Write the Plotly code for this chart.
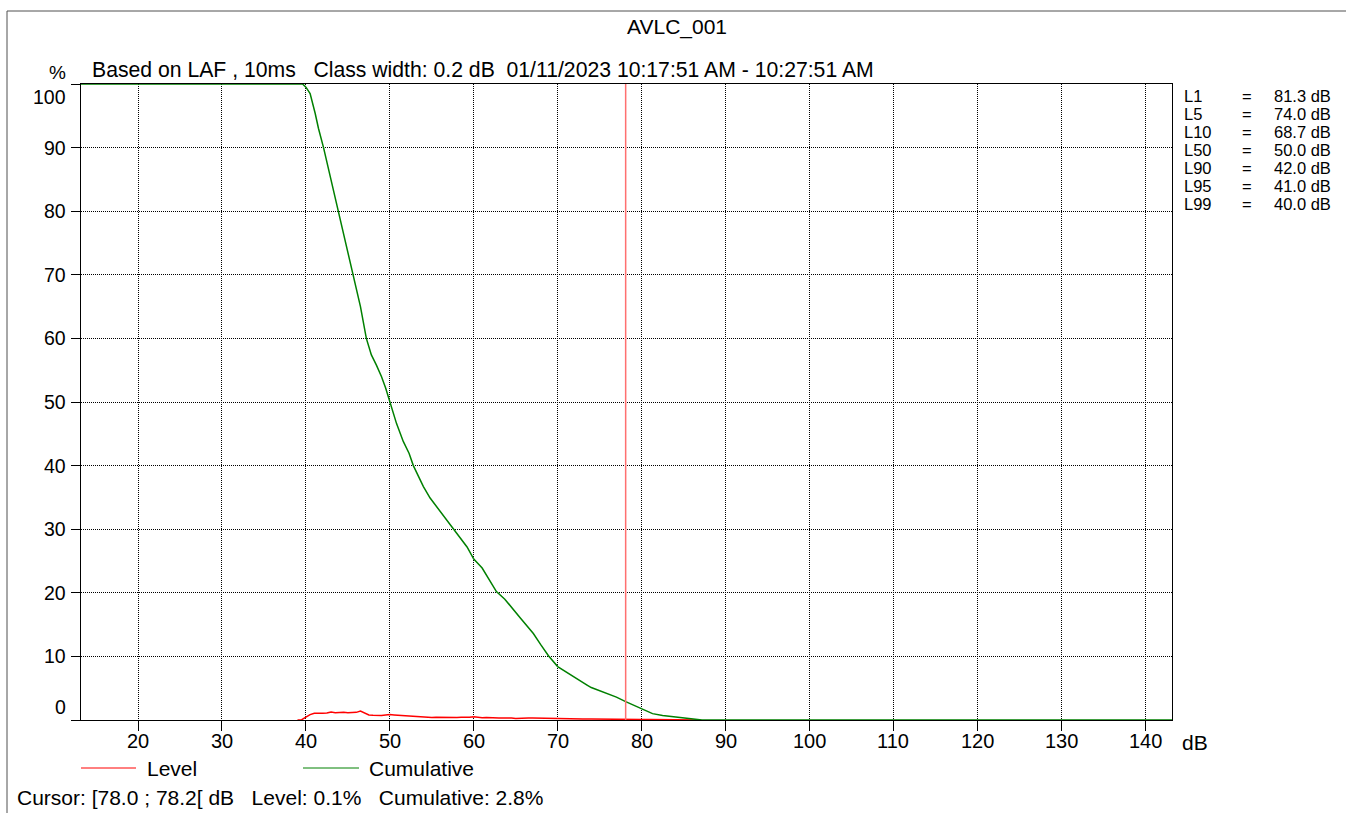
import plotly.graph_objects as go

# ---- data -------------------------------------------------------------
# Cumulative distribution (percent of time the level was exceeded)
cum_db = [13.2, 39.6, 40.0, 40.5, 41.1, 41.5, 42.1, 43.0, 43.9, 44.7, 45.6,
          46.5, 47.2, 47.8, 48.4, 49.0, 49.5, 50.0, 50.8, 51.6, 52.3, 52.8,
          54.0, 54.8, 56.0, 57.6, 59.2, 60.0, 61.0, 62.7, 63.7, 65.5, 66.7,
          67.1, 68.0, 68.9, 70.0, 71.5, 73.5, 74.0, 75.9, 77.0, 78.1, 80.0,
          81.3, 82.5, 83.8, 85.0, 86.2, 87.2, 143.2]
cum_pct = [100.0, 100.0, 99.5, 98.5, 95.4, 93.0, 90.0, 84.9, 80.0, 75.0, 70.0,
           65.0, 60.0, 57.4, 55.8, 54.0, 52.2, 50.0, 46.6, 43.8, 41.9, 40.0,
           36.7, 34.9, 32.8, 30.0, 27.2, 25.3, 23.9, 20.2, 19.0, 16.1, 14.3,
           13.6, 11.8, 10.1, 8.4, 7.1, 5.5, 5.1, 4.2, 3.6, 2.9, 1.7,
           1.0, 0.7, 0.5, 0.3, 0.15, 0.0, 0.0]

# Level distribution (percent per 0.2 dB class)
lvl_db = [39.0, 39.5, 40.0, 40.5, 41.0, 41.5, 42.0, 42.5, 43.0, 43.5, 44.0,
          44.5, 45.0, 45.5, 46.0, 46.5, 47.0, 47.5, 48.0, 48.5, 49.0, 49.5,
          50.0, 50.5, 51.0, 51.5, 52.0, 52.5, 53.0, 53.5, 54.0, 54.5, 55.0,
          55.5, 56.0, 56.5, 57.0, 57.5, 58.0, 58.5, 59.0, 59.5, 60.0, 60.5,
          61.0, 61.5, 62.0, 62.5, 63.0, 63.5, 64.0, 64.5, 65.0, 65.5, 66.0,
          66.5, 67.0, 67.5, 68.0, 68.5, 69.0, 69.5, 70.0, 71.0, 72.0, 73.0,
          74.0, 75.0, 76.0, 77.0, 78.0, 79.0, 80.0, 81.0, 82.0, 83.0, 84.0,
          85.0, 86.0, 87.0]
lvl_pct = [0.0, 0.05, 0.45, 0.85, 1.05, 1.0, 1.05, 1.1, 1.25, 1.15, 1.2,
           1.2, 1.15, 1.2, 1.2, 1.4, 1.05, 0.8, 0.75, 0.7, 0.72, 0.78,
           0.85, 0.8, 0.75, 0.7, 0.72, 0.6, 0.62, 0.5, 0.5, 0.45, 0.4,
           0.45, 0.42, 0.4, 0.42, 0.38, 0.4, 0.42, 0.4, 0.45, 0.5, 0.4,
           0.35, 0.38, 0.33, 0.35, 0.3, 0.32, 0.35, 0.3, 0.25, 0.3, 0.35,
           0.3, 0.32, 0.3, 0.28, 0.25, 0.25, 0.22, 0.2, 0.18, 0.2, 0.15,
           0.15, 0.12, 0.12, 0.1, 0.1, 0.08, 0.08, 0.06, 0.05, 0.05, 0.04,
           0.03, 0.02, 0.0]

cursor_db = 78.1
x_ticks = [20, 30, 40, 50, 60, 70, 80, 90, 100, 110, 120, 130, 140]
y_ticks = [0, 10, 20, 30, 40, 50, 60, 70, 80, 90, 100]
stat_names = ["L1", "L5", "L10", "L50", "L90", "L95", "L99"]
stat_values = [81.3, 74.0, 68.7, 50.0, 42.0, 41.0, 40.0]

# ---- geometry (pixels) -------------------------------------------------
W, H = 1346, 813
L, R, T, B = 81, 1172, 84, 720
PW, PH = R - L, B - T
FONT = "Liberation Sans, Arial, sans-serif"
NB = "&nbsp;"


def px(x):
    return (x - L) / PW


def py(y):
    return (B - y) / PH


fig = go.Figure()
fig.add_trace(go.Scatter(x=lvl_db, y=lvl_pct, mode="lines", name="Level",
                         line=dict(color="#ff0000", width=1.5),
                         showlegend=False, hoverinfo="skip"))
fig.add_trace(go.Scatter(x=cum_db, y=cum_pct, mode="lines", name="Cumulative",
                         line=dict(color="#008000", width=1.5),
                         showlegend=False, hoverinfo="skip"))

shapes = []
# cursor
shapes.append(dict(type="line", xref="x", yref="paper", x0=cursor_db,
                   x1=cursor_db, y0=0, y1=1,
                   line=dict(color="#ff7070", width=1.5), layer="above"))
# outer frame (top + left)
shapes.append(dict(type="line", xref="paper", yref="paper",
                   x0=px(7), x1=px(W), y0=py(11), y1=py(11),
                   line=dict(color="#505050", width=1)))
shapes.append(dict(type="line", xref="paper", yref="paper",
                   x0=px(7), x1=px(7), y0=py(11), y1=py(H + 2),
                   line=dict(color="#505050", width=1)))
# legend samples
shapes.append(dict(type="line", xref="paper", yref="paper",
                   x0=px(81), x1=px(136), y0=py(768), y1=py(768),
                   line=dict(color="#ff0000", width=1)))
shapes.append(dict(type="line", xref="paper", yref="paper",
                   x0=px(303), x1=px(359), y0=py(768), y1=py(768),
                   line=dict(color="#008000", width=1)))

ann = []


def text(x, y, s, anchor="left", size=21):
    ann.append(dict(xref="paper", yref="paper", x=px(x), y=py(y), text=s,
                    showarrow=False, xanchor=anchor, yanchor="middle",
                    font=dict(family=FONT, size=size, color="#000")))


text(677, 27, "AVLC_001", "center", 21)
text(57, 72, "%", "center", 19)
text(90, 70, "Based on LAF , 10ms" + NB * 3 + "Class width: 0.2 dB" + NB * 2
     + "01/11/2023 10:17:51 AM - 10:27:51 AM", "left", 21.2)
text(1180, 742, "dB", "left", 21)
text(145, 768, "Level", "left", 21)
text(367, 768, "Cumulative", "left", 21)
text(15, 797, "Cursor: [78.0 ; 78.2[ dB" + NB * 3 + "Level: 0.1%" + NB * 3
     + "Cumulative: 2.8%", "left", 21)

# statistics table, rows kept 18 px apart
for i, (n, v) in enumerate(zip(stat_names, stat_values)):
    yy = 95.7 + i * 18
    text(1182, yy, n, "left", 16.5)
    text(1247, yy, "=", "center", 16.5)
    text(1333, yy, f"{v:.1f} dB", "right", 16.5)

# x tick labels
for v in x_ticks:
    ann.append(dict(xref="x", yref="paper", x=v, y=py(741), text=str(v),
                    showarrow=False, xanchor="center", yanchor="middle",
                    font=dict(family=FONT, size=20, color="#000")))

# y tick labels (end labels pulled inside the frame)
for v in y_ticks:
    shift = -13 if v == 100 else (13 if v == 0 else 0)
    ann.append(dict(xref="paper", yref="y", x=px(67.5), y=v, text=str(v),
                    yshift=shift, showarrow=False, xanchor="right",
                    yanchor="middle",
                    font=dict(family=FONT, size=19.5, color="#000")))

fig.update_layout(
    width=W, height=H,
    margin=dict(l=L, r=W - R, t=T, b=H - B, pad=0),
    paper_bgcolor="white", plot_bgcolor="white",
    shapes=shapes, annotations=ann,
    font=dict(family=FONT, size=20, color="#000"),
    xaxis=dict(range=[13.2, 143.2], tickvals=x_ticks, ticks="outside",
               ticklen=10, tickcolor="#000", tickwidth=1,
               showticklabels=False,
               showgrid=True, gridcolor="#000", gridwidth=1,
               griddash="1px,1px", showline=True, linecolor="#000",
               linewidth=1, mirror=True, zeroline=False,
               layer="below traces"),
    yaxis=dict(range=[0, 100], tickvals=y_ticks, ticks="outside",
               ticklen=9, tickcolor="#000", tickwidth=1,
               showticklabels=False,
               showgrid=True, gridcolor="#000", gridwidth=1,
               griddash="1px,1px", showline=True, linecolor="#000",
               linewidth=1, mirror=True, zeroline=False,
               layer="below traces"),
)

fig.write_html("out.html")
